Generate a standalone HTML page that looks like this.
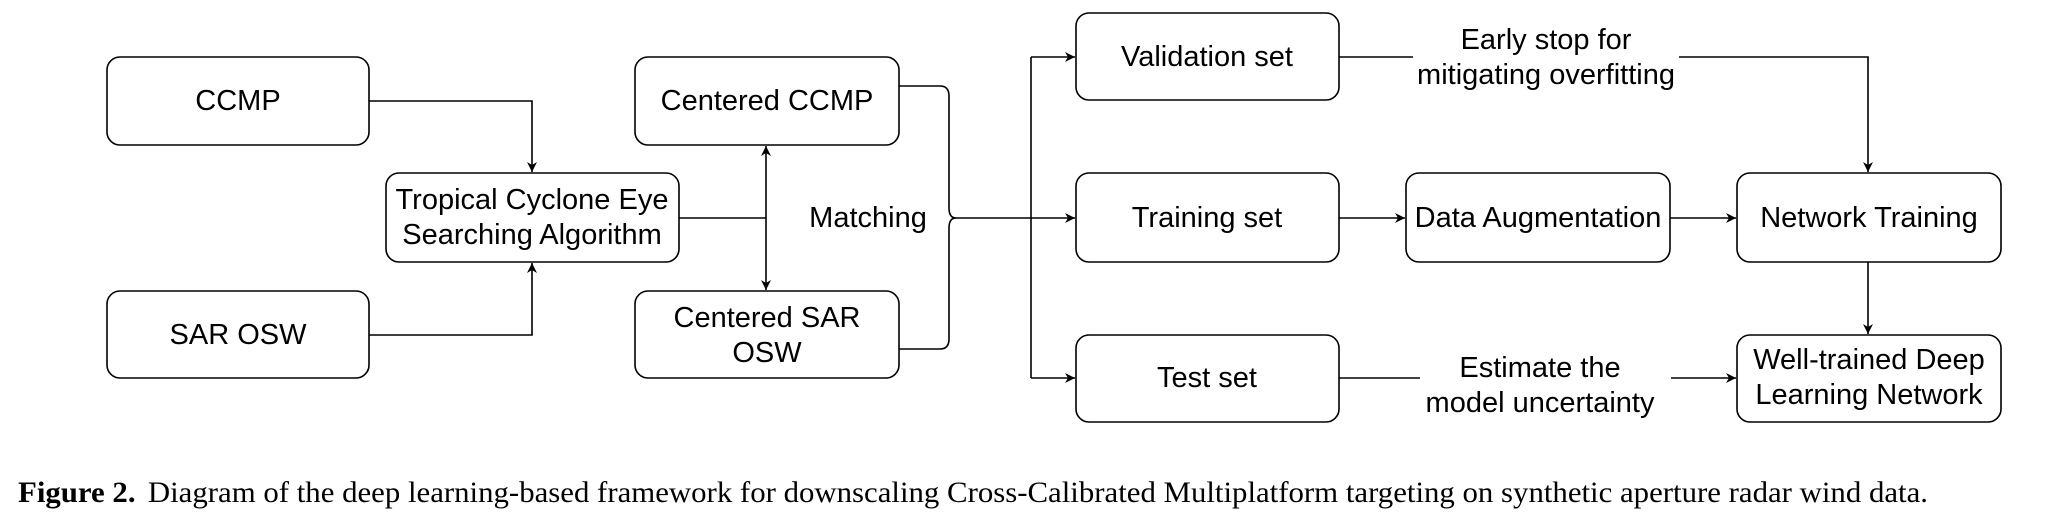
<!DOCTYPE html>
<html><head><meta charset="utf-8"><style>
html,body{margin:0;padding:0;background:#fff;}
svg{display:block;}
.b{fill:#fff;stroke:#000;stroke-width:1.6;}
.l{fill:none;stroke:#000;stroke-width:1.6;}
.t{font-family:"Liberation Sans",Arial,sans-serif;font-size:29px;text-anchor:middle;dominant-baseline:central;fill:#000;}
</style></head><body>
<svg width="2066" height="520" viewBox="0 0 2066 520" xmlns="http://www.w3.org/2000/svg">
<defs><marker id="a" markerWidth="12" markerHeight="12" refX="10" refY="5" orient="auto-start-reverse" markerUnits="userSpaceOnUse"><path d="M0,0 L10,5 L0,10 L3,5 Z" fill="#000"/></marker></defs>
<rect class="b" x="107" y="57" width="262" height="88" rx="13"/>
<rect class="b" x="107" y="291" width="262" height="87" rx="13"/>
<rect class="b" x="386" y="173" width="293" height="89" rx="13"/>
<rect class="b" x="635" y="57" width="264" height="88" rx="13"/>
<rect class="b" x="635" y="291" width="264" height="87" rx="13"/>
<rect class="b" x="1076" y="13" width="263" height="87" rx="13"/>
<rect class="b" x="1076" y="173" width="263" height="89" rx="13"/>
<rect class="b" x="1076" y="335" width="263" height="87" rx="13"/>
<rect class="b" x="1406" y="173" width="264" height="89" rx="13"/>
<rect class="b" x="1737" y="173" width="264" height="89" rx="13"/>
<rect class="b" x="1737" y="335" width="264" height="87" rx="13"/>
<text class="t" x="238" y="101">CCMP</text>
<text class="t" x="238" y="335">SAR OSW</text>
<text class="t" x="532" y="200">Tropical Cyclone Eye</text>
<text class="t" x="532" y="235">Searching Algorithm</text>
<text class="t" x="767" y="101">Centered CCMP</text>
<text class="t" x="767" y="318">Centered SAR</text>
<text class="t" x="767" y="353">OSW</text>
<text class="t" x="868" y="218">Matching</text>
<text class="t" x="1207" y="57">Validation set</text>
<text class="t" x="1207" y="218">Training set</text>
<text class="t" x="1207" y="378">Test set</text>
<text class="t" x="1538" y="218">Data Augmentation</text>
<text class="t" x="1869" y="218">Network Training</text>
<text class="t" x="1869" y="360">Well-trained Deep</text>
<text class="t" x="1869" y="395">Learning Network</text>
<text class="t" x="1546" y="40">Early stop for</text>
<text class="t" x="1546" y="75">mitigating overfitting</text>
<text class="t" x="1540" y="368">Estimate the</text>
<text class="t" x="1540" y="403">model uncertainty</text>
<path class="l" d="M369,101 H532 V172" marker-end="url(#a)"/>
<path class="l" d="M369,335 H532 V263" marker-end="url(#a)"/>
<path class="l" d="M679,218 H766"/>
<path class="l" d="M766,146 V290" marker-start="url(#a)" marker-end="url(#a)"/>
<path class="l" d="M899,86 H940 Q949,86 949,96 V208 Q949,218 956,218 Q949,218 949,228 V339 Q949,349 940,349 H899"/>
<path class="l" d="M956,218 H1031"/>
<path class="l" d="M1031,57 V378"/>
<path class="l" d="M1031,57 H1075" marker-end="url(#a)"/>
<path class="l" d="M1031,218 H1075" marker-end="url(#a)"/>
<path class="l" d="M1031,378 H1075" marker-end="url(#a)"/>
<path class="l" d="M1339,57 H1413"/>
<path class="l" d="M1679,57 H1868 V172" marker-end="url(#a)"/>
<path class="l" d="M1339,218 H1405" marker-end="url(#a)"/>
<path class="l" d="M1670,218 H1736" marker-end="url(#a)"/>
<path class="l" d="M1868,262 V334" marker-end="url(#a)"/>
<path class="l" d="M1339,378 H1420"/>
<path class="l" d="M1671,378 H1736" marker-end="url(#a)"/>
<text x="18" y="502" font-family="'Liberation Serif','Times New Roman',serif" font-size="30" fill="#000" textLength="1910" lengthAdjust="spacingAndGlyphs"><tspan font-weight="bold">Figure 2.</tspan><tspan dx="12">Diagram of the deep learning-based framework for downscaling Cross-Calibrated Multiplatform targeting on synthetic aperture radar wind data.</tspan></text>
</svg>
</body></html>
